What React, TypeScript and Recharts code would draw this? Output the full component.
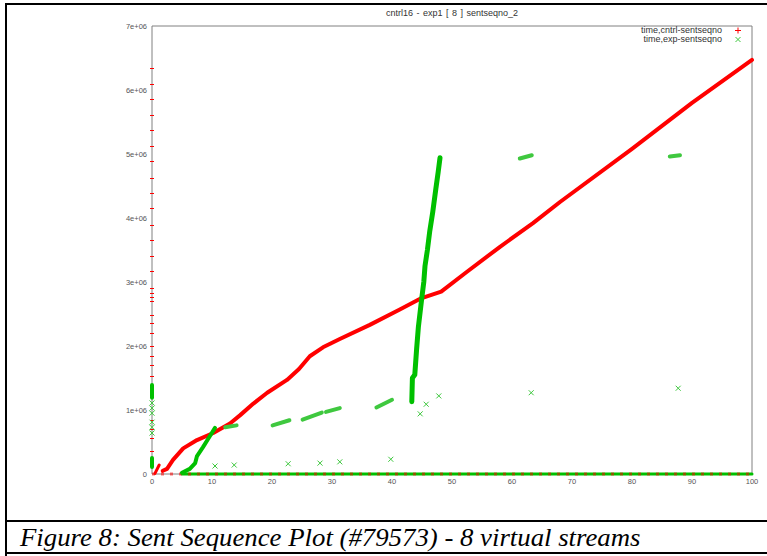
import { ComposedChart, Line, Scatter, XAxis, YAxis, ReferenceArea, ReferenceLine } from "recharts"

type Pt = { x: number; y: number }

const xTicks = [0, 10, 20, 30, 40, 50, 60, 70, 80, 90, 100]
const yTicks = [0, 1e6, 2e6, 3e6, 4e6, 5e6, 6e6, 7e6]

// time,cntrl-sentseqno (red +, drawn so densely it reads as a thick line)
const cntrlSpike: Pt[] = [
  { x: 0.5, y: 0.01e6 },
  { x: 1.2, y: 0.14e6 },
]
const cntrlCurve: Pt[] = [
  { x: 1.8, y: 0.05e6 },
  { x: 2.5, y: 0.08e6 },
  { x: 3.5, y: 0.22e6 },
  { x: 5.2, y: 0.4e6 },
  { x: 7.5, y: 0.53e6 },
  { x: 10.2, y: 0.64e6 },
  { x: 13, y: 0.79e6 },
  { x: 14.7, y: 0.92e6 },
  { x: 16.9, y: 1.1e6 },
  { x: 19.2, y: 1.27e6 },
  { x: 22.5, y: 1.47e6 },
  { x: 24.5, y: 1.64e6 },
  { x: 26.3, y: 1.84e6 },
  { x: 28.5, y: 1.98e6 },
  { x: 31.3, y: 2.11e6 },
  { x: 36.3, y: 2.33e6 },
  { x: 41.3, y: 2.57e6 },
  { x: 44.7, y: 2.74e6 },
  { x: 48.2, y: 2.85e6 },
  { x: 52.5, y: 3.16e6 },
  { x: 58, y: 3.55e6 },
  { x: 63.5, y: 3.92e6 },
  { x: 68, y: 4.25e6 },
  { x: 80, y: 5.08e6 },
  { x: 90, y: 5.8e6 },
  { x: 100, y: 6.47e6 },
]
const cntrlBaseline: Pt[] = [
  { x: 0, y: 0 },
  { x: 100, y: 0 },
]
const cntrlAxisMarks = [
  6.34, 6.09, 5.85, 5.6, 5.36, 5.12, 4.88, 4.62, 4.39, 4.15, 3.88, 3.65, 3.4, 3.16, 2.9, 2.82, 2.76,
  2.69, 2.48, 2.35, 2.2, 1.99, 1.84, 1.69, 1.52, 0.84, 0.69, 0.56, 0.35,
].map((m) => m * 1e6)

// time,exp-sentseqno (green x)
const expRamp: Pt[] = [
  { x: 5.0, y: 0.02e6 },
  { x: 6.3, y: 0.08e6 },
  { x: 7.2, y: 0.17e6 },
  { x: 7.5, y: 0.28e6 },
  { x: 8.5, y: 0.42e6 },
  { x: 9.5, y: 0.57e6 },
  { x: 10.5, y: 0.72e6 },
]
const expSteep: Pt[] = [
  { x: 43.3, y: 1.13e6 },
  { x: 43.4, y: 1.5e6 },
  { x: 43.8, y: 1.55e6 },
  { x: 44.1, y: 1.95e6 },
  { x: 44.4, y: 2.3e6 },
  { x: 44.9, y: 2.7e6 },
  { x: 45.3, y: 3.0e6 },
  { x: 45.5, y: 3.25e6 },
  { x: 45.9, y: 3.5e6 },
  { x: 46.3, y: 3.8e6 },
  { x: 46.8, y: 4.1e6 },
  { x: 47.3, y: 4.45e6 },
  { x: 47.7, y: 4.72e6 },
  { x: 48.0, y: 4.94e6 },
]
const expClusterA: Pt[] = [
  { x: 12.2, y: 0.73e6 },
  { x: 14.1, y: 0.76e6 },
]
const expClusterB: Pt[] = [
  { x: 20.1, y: 0.76e6 },
  { x: 22.9, y: 0.84e6 },
]
const expClusterC: Pt[] = [
  { x: 25.1, y: 0.85e6 },
  { x: 28.3, y: 0.96e6 },
]
const expClusterD: Pt[] = [
  { x: 29.0, y: 0.97e6 },
  { x: 31.3, y: 1.03e6 },
]
const expClusterE: Pt[] = [
  { x: 37.4, y: 1.04e6 },
  { x: 40.0, y: 1.16e6 },
]
const expClusterF: Pt[] = [
  { x: 61.3, y: 4.93e6 },
  { x: 63.3, y: 4.98e6 },
]
const expClusterG: Pt[] = [
  { x: 86.3, y: 4.96e6 },
  { x: 88.0, y: 4.98e6 },
]
const expAxisHigh: Pt[] = [
  { x: 0, y: 1.19e6 },
  { x: 0, y: 1.39e6 },
]
const expAxisLow: Pt[] = [
  { x: 0, y: 0.11e6 },
  { x: 0, y: 0.25e6 },
]
const expBaseline: Pt[] = [
  { x: 5, y: 0 },
  { x: 100, y: 0 },
]
const expScattered: Pt[] = [
  { x: 10.5, y: 0.125e6 },
  { x: 13.7, y: 0.14e6 },
  { x: 22.7, y: 0.16e6 },
  { x: 28.0, y: 0.17e6 },
  { x: 31.3, y: 0.19e6 },
  { x: 39.8, y: 0.23e6 },
  { x: 44.7, y: 0.94e6 },
  { x: 45.7, y: 1.09e6 },
  { x: 47.8, y: 1.22e6 },
  { x: 63.2, y: 1.27e6 },
  { x: 87.7, y: 1.34e6 },
  { x: 0, y: 0.64e6 },
  { x: 0, y: 0.73e6 },
  { x: 0, y: 0.81e6 },
  { x: 0, y: 0.95e6 },
  { x: 0, y: 1.03e6 },
  { x: 0, y: 1.11e6 },
]

const RED = "#ff0000"
const GREEN = "#00c000"
const LIGHT_GREEN = "#3fc83f"
const tickStyle = { fontSize: 7.5, fill: "#555", fontFamily: "Liberation Sans, Arial, sans-serif" }

const XMark = (p: any) => (
  <path
    d={`M${p.cx - 2.5},${p.cy - 2.5}L${p.cx + 2.5},${p.cy + 2.5}M${p.cx - 2.5},${p.cy + 2.5}L${p.cx + 2.5},${p.cy - 2.5}`}
    stroke={LIGHT_GREEN}
    strokeWidth={1}
    fill="none"
  />
)

const fmtY = (v: number) => (v === 0 ? "0" : `${v / 1e6}e+06`)

function thick(data: Pt[], color: string, w: number, key: string) {
  return (
    <Line
      key={key}
      data={data}
      dataKey="y"
      type="linear"
      stroke={color}
      strokeWidth={w}
      strokeLinecap="round"
      strokeLinejoin="round"
      dot={false}
      activeDot={false}
      isAnimationActive={false}
    />
  )
}

export default function App() {
  const clusters = [expClusterA, expClusterB, expClusterC, expClusterD, expClusterE, expClusterF, expClusterG]
  return (
    <div style={{ position: "absolute", left: 0, top: 0, width: 767, height: 556, background: "#fff" }}>
      {/* outer frame */}
      <div style={{ position: "absolute", left: 5, top: 3, width: 762, height: 2, background: "#000" }} />
      <div style={{ position: "absolute", left: 5, top: 3, width: 2, height: 553, background: "#000" }} />
      <div style={{ position: "absolute", left: 5, top: 520, width: 762, height: 2, background: "#000" }} />
      <div style={{ position: "absolute", left: 5, top: 552, width: 762, height: 2, background: "#000" }} />

      <div
        style={{
          position: "absolute",
          left: 152,
          top: 8,
          width: 600,
          textAlign: "center",
          fontFamily: "Liberation Sans, Arial, sans-serif",
          fontSize: 9,
          lineHeight: "10px",
          color: "#333",
          wordSpacing: 1,
        }}
      >
        cntrl16 - exp1 [ 8 ] sentseqno_2
      </div>

      <div style={{ position: "absolute", left: 0, top: 0 }}>
        <ComposedChart width={767} height={500} margin={{ top: 26, right: 15, left: 0, bottom: 10 }}>
          <XAxis
            type="number"
            dataKey="x"
            domain={[0, 100]}
            ticks={xTicks}
            interval={0}
            axisLine={false}
            tickLine={false}
            tickSize={0}
            tickMargin={5}
            height={16}
            tick={tickStyle}
          />
          <YAxis
            type="number"
            dataKey="y"
            domain={[0, 7e6]}
            ticks={yTicks}
            interval={0}
            axisLine={false}
            tickLine={false}
            tickSize={0}
            tickMargin={5}
            width={152}
            tickFormatter={fmtY}
            tick={tickStyle}
          />
          <ReferenceArea
            x1={0}
            x2={100}
            y1={0}
            y2={7e6}
            fill="none"
            fillOpacity={0}
            stroke="#808080"
            strokeWidth={1}
            ifOverflow="visible"
          />
          {thick(expBaseline, GREEN, 3, "eb")}
          <Line
            data={cntrlBaseline}
            dataKey="y"
            type="linear"
            stroke={RED}
            strokeOpacity={0.55}
            strokeWidth={3}
            strokeDasharray="3 6"
            dot={false}
            activeDot={false}
            isAnimationActive={false}
          />
          {cntrlAxisMarks.map((v, i) => (
            <ReferenceLine
              key={`m${i}`}
              segment={[
                { x: -0.35, y: v },
                { x: 0.35, y: v },
              ]}
              stroke={RED}
              strokeWidth={1}
              shapeRendering="crispEdges"
              ifOverflow="visible"
            />
          ))}
          {thick(cntrlSpike, RED, 3, "cs")}
          {thick(cntrlCurve, RED, 4, "cc")}
          {thick(expRamp, GREEN, 4, "er")}
          {thick(expSteep, GREEN, 5, "es")}
          {clusters.map((c, i) => thick(c, LIGHT_GREEN, 4, `cl${i}`))}
          {thick(expAxisHigh, GREEN, 4, "ah")}
          {thick(expAxisLow, GREEN, 4, "al")}
          <Scatter data={expScattered} dataKey="y" fill={LIGHT_GREEN} shape={XMark} isAnimationActive={false} />
        </ComposedChart>
      </div>

      {/* key */}
      <div
        style={{
          position: "absolute",
          left: 560,
          top: 26,
          width: 190,
          fontFamily: "Liberation Sans, Arial, sans-serif",
          fontSize: 9,
          lineHeight: "9px",
          color: "#333",
        }}
      >
        {[
          { label: "time,cntrl-sentseqno", kind: "plus" },
          { label: "time,exp-sentseqno", kind: "x" },
        ].map((r) => (
          <div key={r.label} style={{ display: "flex", justifyContent: "flex-end", alignItems: "center", height: 9 }}>
            <span>{r.label}</span>
            <svg width={28} height={9}>
              {r.kind === "plus" ? (
                <path d="M13,4.5L19,4.5M16,1.5L16,7.5" stroke={RED} strokeWidth={1} />
              ) : (
                <path d="M13.5,2L18.5,7M13.5,7L18.5,2" stroke={LIGHT_GREEN} strokeWidth={1} />
              )}
            </svg>
          </div>
        ))}
      </div>

      <div
        style={{
          position: "absolute",
          left: 20,
          top: 525,
          fontFamily: "Liberation Serif, 'Times New Roman', serif",
          fontStyle: "italic",
          fontSize: 26,
          lineHeight: "26px",
          color: "#000",
          whiteSpace: "nowrap",
          transform: "scaleX(1.03)",
          transformOrigin: "left",
        }}
      >
        Figure 8: Sent Sequence Plot (#79573) - 8 virtual streams
      </div>
    </div>
  )
}
